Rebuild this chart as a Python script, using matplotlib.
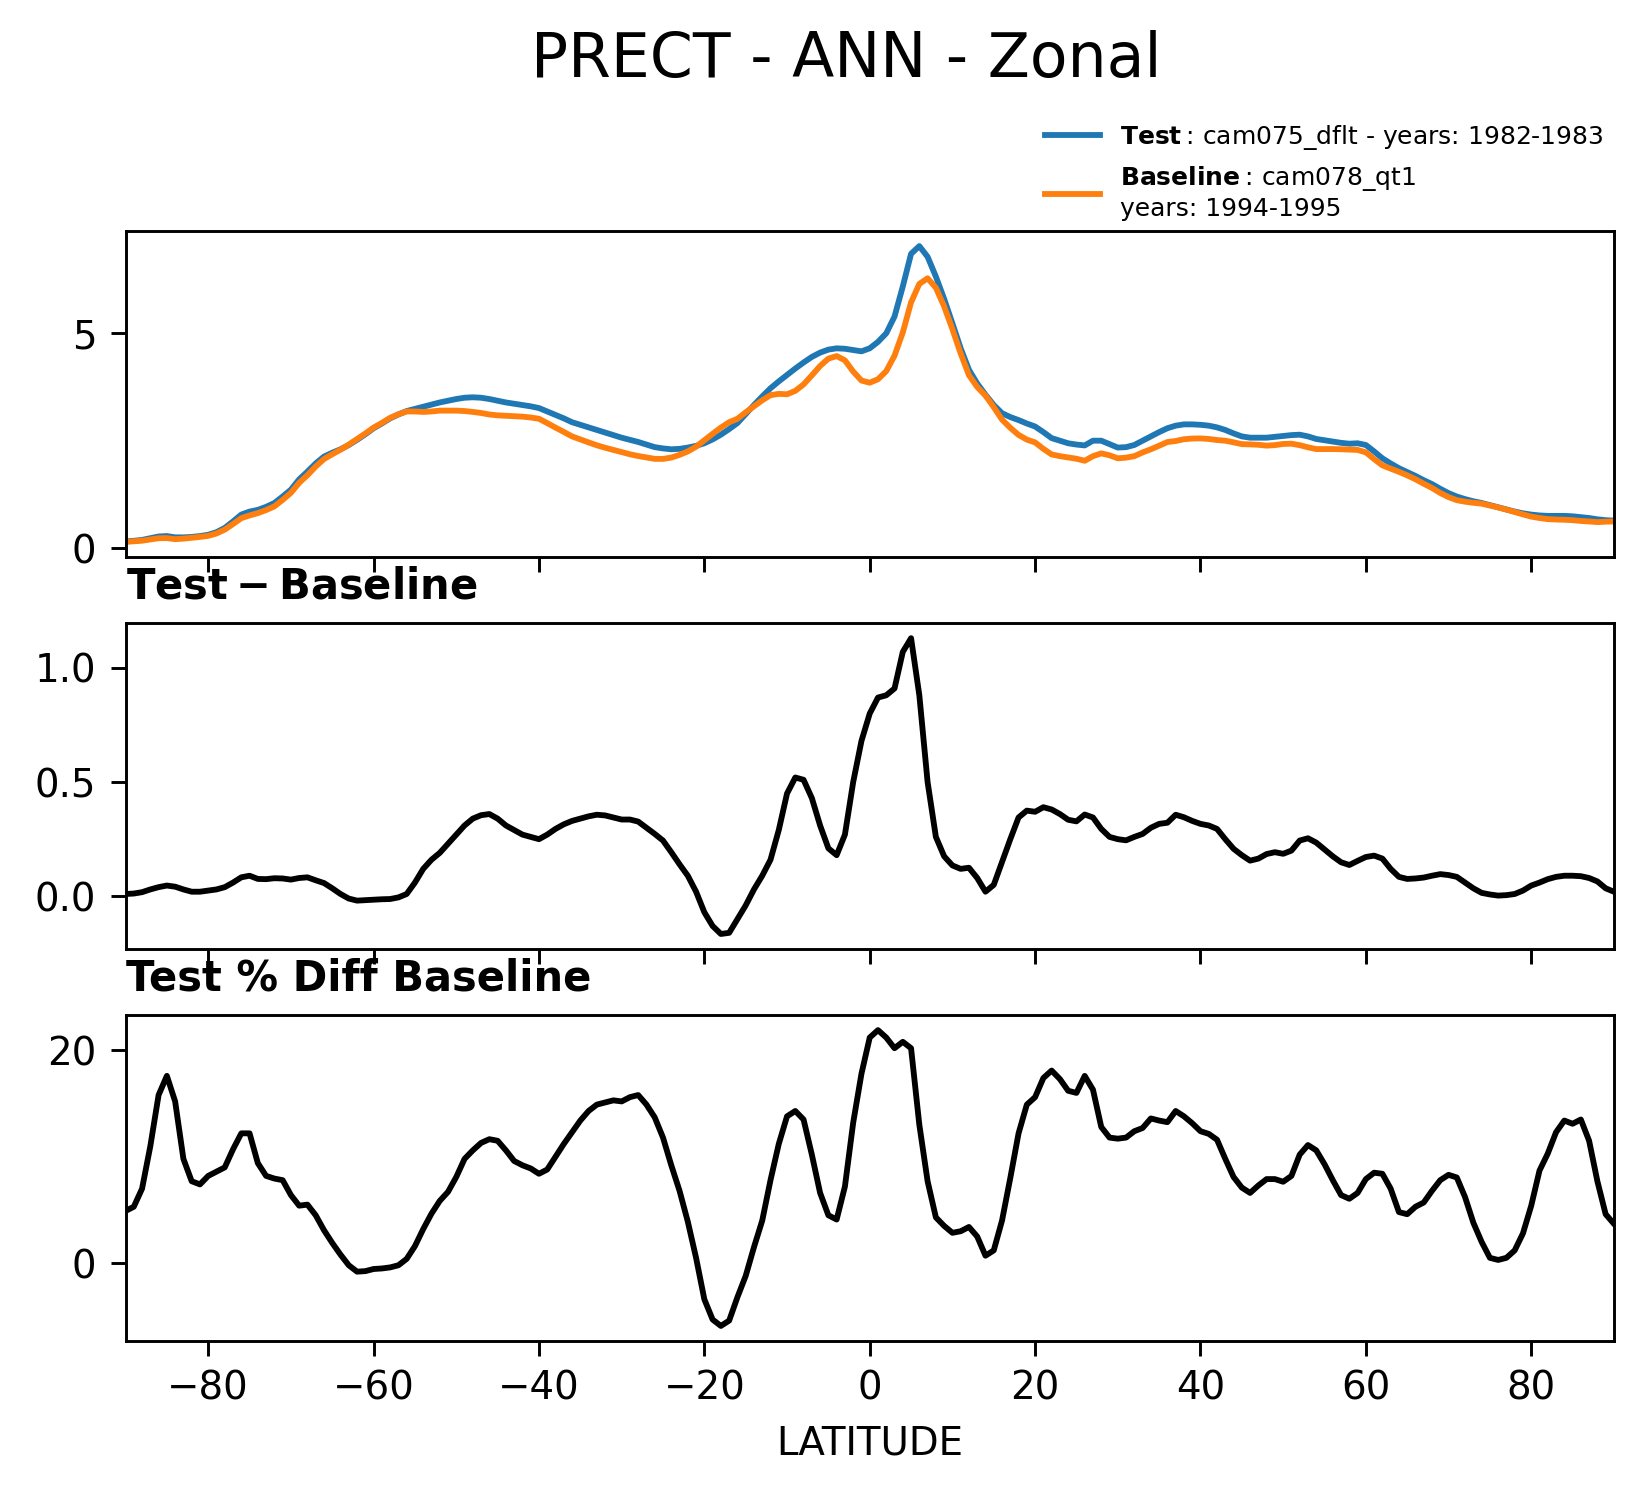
import numpy as np
import matplotlib
matplotlib.use("Agg")
import matplotlib.pyplot as plt
from matplotlib.ticker import MultipleLocator, FormatStrFormatter

# ---------------- data ----------------
lat = np.arange(-90, 91)  # 1-degree latitude grid

test_vals = [
    0.155, 0.17, 0.19, 0.23, 0.27, 0.28, 0.25, 0.25, 0.26, 0.28,
    0.31, 0.37, 0.47, 0.62, 0.78, 0.85, 0.89, 0.96, 1.05, 1.20,
    1.36, 1.60, 1.78, 1.97, 2.13, 2.22, 2.30, 2.40, 2.52, 2.65,
    2.79, 2.90, 3.02, 3.11, 3.19, 3.24, 3.29, 3.34, 3.39, 3.43,
    3.47, 3.50, 3.51, 3.50, 3.47, 3.43, 3.39, 3.36, 3.33, 3.30,
    3.26, 3.18, 3.10, 3.02, 2.93, 2.87, 2.81, 2.75, 2.69, 2.63,
    2.57, 2.52, 2.47, 2.41, 2.35, 2.32, 2.30, 2.31, 2.34, 2.38,
    2.44, 2.53, 2.64, 2.77, 2.91, 3.12, 3.33, 3.53, 3.72, 3.88,
    4.03, 4.18, 4.32, 4.45, 4.55, 4.62, 4.65, 4.64, 4.61, 4.58,
    4.65, 4.80, 5.00, 5.39, 6.09, 6.85, 7.03, 6.78, 6.32, 5.80,
    5.23, 4.65, 4.15, 3.83, 3.57, 3.33, 3.14, 3.05, 2.98, 2.90,
    2.83, 2.70, 2.56, 2.50, 2.44, 2.41, 2.39, 2.50, 2.50, 2.42,
    2.34, 2.35, 2.40, 2.50, 2.60, 2.70, 2.79, 2.85, 2.88, 2.88,
    2.87, 2.85, 2.81, 2.75, 2.67, 2.60, 2.57, 2.57, 2.57, 2.59,
    2.61, 2.63, 2.64, 2.60, 2.54, 2.51, 2.48, 2.45, 2.43, 2.44,
    2.40, 2.25, 2.09, 1.97, 1.86, 1.77, 1.68, 1.58, 1.49, 1.38,
    1.28, 1.20, 1.14, 1.09, 1.05, 1.00, 0.95, 0.90, 0.85, 0.81,
    0.78, 0.76, 0.75, 0.75, 0.75, 0.74, 0.72, 0.70, 0.67, 0.65, 0.64,
]

base_vals = [
    0.145, 0.158, 0.172, 0.20, 0.23, 0.233, 0.208, 0.22, 0.24, 0.26,
    0.285, 0.34, 0.43, 0.56, 0.697, 0.76, 0.814, 0.885, 0.971, 1.122,
    1.287, 1.52, 1.697, 1.90, 2.072, 2.185, 2.29, 2.41, 2.539, 2.667,
    2.805, 2.913, 3.032, 3.115, 3.18, 3.18, 3.17, 3.18, 3.20, 3.20,
    3.20, 3.19, 3.17, 3.145, 3.11, 3.09, 3.08, 3.07, 3.06, 3.04,
    3.01, 2.91, 2.805, 2.705, 2.60, 2.53, 2.46, 2.393, 2.336, 2.285,
    2.234, 2.184, 2.143, 2.11, 2.077, 2.076, 2.107, 2.17, 2.25, 2.36,
    2.51, 2.66, 2.805, 2.93, 3.01, 3.16, 3.30, 3.44, 3.56, 3.59,
    3.58, 3.66, 3.81, 4.02, 4.24, 4.41, 4.47, 4.37, 4.11, 3.90,
    3.85, 3.93, 4.12, 4.48, 5.02, 5.72, 6.15, 6.28, 6.06, 5.625,
    5.095, 4.53, 4.025, 3.75, 3.55, 3.28, 2.99, 2.80, 2.635, 2.525,
    2.46, 2.31, 2.18, 2.14, 2.11, 2.08, 2.033, 2.14, 2.205, 2.16,
    2.09, 2.105, 2.14, 2.227, 2.30, 2.383, 2.468, 2.493, 2.534, 2.55,
    2.553, 2.54, 2.515, 2.50, 2.462, 2.42, 2.414, 2.405, 2.385, 2.397,
    2.424, 2.43, 2.396, 2.346, 2.305, 2.305, 2.305, 2.301, 2.293, 2.285,
    2.228, 2.072, 1.925, 1.85, 1.775, 1.694, 1.602, 1.498, 1.40, 1.283,
    1.187, 1.115, 1.08, 1.055, 1.035, 0.992, 0.947, 0.895, 0.84, 0.785,
    0.733, 0.70, 0.675, 0.665, 0.66, 0.65, 0.632, 0.62, 0.605, 0.615, 0.62,
]

diff_vals = [
    0.01, 0.012, 0.018, 0.03, 0.04, 0.047, 0.042, 0.03, 0.02, 0.02,
    0.025, 0.03, 0.04, 0.06, 0.083, 0.09, 0.076, 0.075, 0.079, 0.078,
    0.073, 0.08, 0.083, 0.07, 0.058, 0.035, 0.01, -0.01, -0.019, -0.017,
    -0.015, -0.013, -0.012, -0.005, 0.01, 0.06, 0.12, 0.16, 0.19, 0.23,
    0.27, 0.31, 0.34, 0.355, 0.36, 0.34, 0.31, 0.29, 0.27, 0.26,
    0.25, 0.27, 0.295, 0.315, 0.33, 0.34, 0.35, 0.357, 0.354, 0.345,
    0.336, 0.336, 0.327, 0.30, 0.273, 0.244, 0.193, 0.14, 0.09, 0.02,
    -0.07, -0.13, -0.165, -0.16, -0.10, -0.04, 0.03, 0.09, 0.16, 0.29,
    0.45, 0.52, 0.51, 0.43, 0.31, 0.21, 0.18, 0.27, 0.50, 0.68,
    0.80, 0.87, 0.88, 0.91, 1.07, 1.13, 0.88, 0.50, 0.26, 0.175,
    0.135, 0.12, 0.125, 0.08, 0.02, 0.05, 0.15, 0.25, 0.345, 0.375,
    0.37, 0.39, 0.38, 0.36, 0.335, 0.328, 0.358, 0.345, 0.295, 0.26,
    0.25, 0.245, 0.26, 0.273, 0.30, 0.317, 0.322, 0.357, 0.346, 0.33,
    0.317, 0.31, 0.295, 0.25, 0.208, 0.18, 0.156, 0.165, 0.185, 0.193,
    0.186, 0.20, 0.244, 0.254, 0.235, 0.205, 0.175, 0.149, 0.137, 0.155,
    0.172, 0.178, 0.165, 0.12, 0.085, 0.076, 0.078, 0.082, 0.09, 0.097,
    0.093, 0.085, 0.06, 0.035, 0.015, 0.008, 0.003, 0.005, 0.01, 0.025,
    0.047, 0.06, 0.075, 0.085, 0.09, 0.09, 0.088, 0.08, 0.065, 0.035, 0.02,
]

pct_vals = [
    4.9, 5.3, 7.0, 11.0, 15.8, 17.6, 15.2, 9.8, 7.7, 7.4,
    8.2, 8.6, 9.0, 10.7, 12.2, 12.2, 9.4, 8.2, 7.95, 7.8,
    6.4, 5.4, 5.5, 4.5, 3.1, 1.9, 0.8, -0.2, -0.8, -0.75,
    -0.55, -0.5, -0.4, -0.2, 0.4, 1.6, 3.2, 4.65, 5.85, 6.7,
    8.1, 9.8, 10.6, 11.3, 11.65, 11.5, 10.6, 9.6, 9.2, 8.9,
    8.4, 8.8, 10.0, 11.2, 12.3, 13.4, 14.3, 14.9, 15.1, 15.3,
    15.2, 15.6, 15.8, 14.9, 13.7, 11.8, 9.2, 6.8, 3.9, 0.5,
    -3.4, -5.3, -5.9, -5.4, -3.2, -1.2, 1.5, 4.0, 7.8, 11.2,
    13.8, 14.3, 13.5, 10.2, 6.6, 4.5, 4.1, 7.2, 13.2, 17.8,
    21.2, 21.9, 21.2, 20.2, 20.8, 20.2, 13.0, 7.7, 4.3, 3.5,
    2.85, 3.0, 3.4, 2.5, 0.7, 1.2, 4.0, 8.0, 12.2, 14.9,
    15.6, 17.4, 18.1, 17.3, 16.2, 16.0, 17.6, 16.3, 12.8, 11.8,
    11.7, 11.8, 12.4, 12.7, 13.6, 13.4, 13.25, 14.3, 13.8, 13.15,
    12.4, 12.15, 11.6, 9.8, 8.1, 7.1, 6.6, 7.3, 7.9, 7.9,
    7.65, 8.2, 10.2, 11.1, 10.6, 9.3, 7.8, 6.4, 6.05, 6.6,
    7.9, 8.5, 8.4, 7.0, 4.8, 4.6, 5.3, 5.7, 6.8, 7.8,
    8.3, 8.05, 6.2, 3.8, 2.0, 0.5, 0.3, 0.5, 1.2, 2.8,
    5.4, 8.7, 10.3, 12.3, 13.4, 13.1, 13.5, 11.5, 7.7, 4.6, 3.7,
]

xticks = [-80, -60, -40, -20, 0, 20, 40, 60, 80]
title_text = "PRECT - ANN - Zonal"
test_label = r"$\bf{Test}$" + "\u2009: cam075_dflt - years: 1982-1983"
base_label = r"$\bf{Baseline}$" + "\u2009: cam078_qt1\nyears: 1994-1995"
diff_title = r"$\bf{Test - Baseline}$"
pct_title = "Test % Diff Baseline"
xlabel_text = "LATITUDE"

# ---------------- style ----------------
plt.rcParams["font.family"] = ["DejaVu Sans"]
plt.rcParams["axes.linewidth"] = 0.7
plt.rcParams["xtick.labelsize"] = 9.3
plt.rcParams["ytick.labelsize"] = 9.3
plt.rcParams["xtick.major.width"] = 0.7
plt.rcParams["ytick.major.width"] = 0.7

W_PX, H_PX, DPI = 1643, 1496, 300
fig = plt.figure(figsize=(W_PX / DPI, H_PX / DPI), dpi=DPI)

L, W, H = 0.0764, 0.9059, 0.2175
ax1 = fig.add_axes([L, 0.6279, W, H])
ax2 = fig.add_axes([L, 0.3658, W, H], sharex=ax1)
ax3 = fig.add_axes([L, 0.1038, W, H], sharex=ax1)

lw = 1.4
ax1.plot(lat, test_vals, color="#1f77b4", lw=lw, label=test_label)
ax1.plot(lat, base_vals, color="#ff7f0e", lw=lw, label=base_label)
ax2.plot(lat, diff_vals, color="black", lw=lw)
ax3.plot(lat, pct_vals, color="black", lw=lw)

ax1.set_xlim(-90, 90)
ax1.set_xticks(xticks)
ax1.yaxis.set_major_locator(MultipleLocator(5))
ax2.yaxis.set_major_locator(MultipleLocator(0.5))
ax3.yaxis.set_major_locator(MultipleLocator(20))
ax2.yaxis.set_major_formatter(FormatStrFormatter("%.1f"))

for ax in (ax1, ax2):
    ax.tick_params(labelbottom=False)

ax1.legend(loc="lower right", bbox_to_anchor=(1.0, 1.0),
           bbox_transform=ax1.transAxes, frameon=False, fontsize=6,
           handlelength=2.2, borderaxespad=0.0)

ax2.set_title(diff_title, loc="left", fontsize=10, fontweight="bold")
ax3.set_title(pct_title, loc="left", fontsize=10, fontweight="bold")
ax3.set_xlabel(xlabel_text, fontsize=9.3)

fig.text(846 / W_PX, 1 - 76.7 / H_PX, title_text, ha="center",
         va="baseline", fontsize=14.8)

fig.savefig("out.png", dpi=DPI)
